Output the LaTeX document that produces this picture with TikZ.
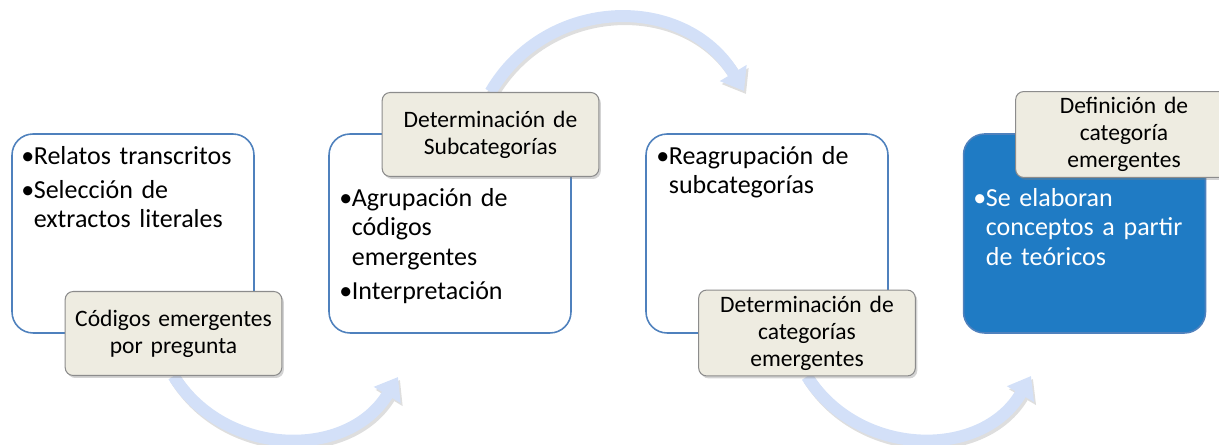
\documentclass[tikz,border=0pt]{standalone}
\usepackage{fontspec}
\setmainfont{Carlito}
\usetikzlibrary{arrows.meta,shadows,backgrounds}

\definecolor{borde}{HTML}{4F81BD}
\definecolor{etiqueta}{HTML}{EEECE1}
\definecolor{flecha}{HTML}{D3E0F8}
\definecolor{azul}{HTML}{1F7BC4}

\newcommand{\vineta}[1]{\hangindent=0.25cm\hangafter=1\noindent\makebox[0.25cm][l]{\textbullet}#1\par\vspace{0.09cm}}

\tikzset{
  caja/.style={draw=borde, line width=0.9pt, rounded corners=0.42cm, minimum width=4.84cm, minimum height=3.98cm},
  texto/.style={anchor=north west, inner sep=0pt, text width=4.5cm, align=left, font=\fontsize{14.8}{16.8}\selectfont},
  etiq/.style={draw=black!45, line width=0.6pt, fill=etiqueta, rounded corners=0.16cm, minimum width=4.28cm, minimum height=1.68cm, text width=4.1cm, align=center, font=\fontsize{13.4}{15.3}\selectfont, drop shadow={opacity=0.35, shadow xshift=0.04cm, shadow yshift=-0.05cm}},
  arco/.style={line width=0.24cm, draw=flecha, -{Triangle[length=0.42cm,width=0.6cm]}},
  sombra/.style={line width=0.24cm, draw=black!13, -{Triangle[length=0.42cm,width=0.6cm]}}
}

\begin{document}
\begin{tikzpicture}[x=0.02cm,y=-0.02cm]
\useasboundingbox (0,0) rectangle (1219,445);

\coordinate (c1) at (398,377);
\coordinate (c2) at (744,91);
\coordinate (c3) at (1031,376);

\node[caja, fill=white] (b1) at (133,233.5) {};
\node[caja, fill=white] (b2) at (450,233.5) {};
\node[caja, fill=white] (b3) at (767,233.5) {};
\node[caja, fill=azul] (b4) at (1084.5,233.5) {};

\node[etiq] (l1) at (173.5,333.5) {C\'odigos emergentes\\por pregunta};
\node[etiq] (l2) at (490.5,134.5) {Determinaci\'on de\\Subcategor\'ias};
\node[etiq] (l3) at (807,333) {Determinaci\'on de\\categor\'ias\\emergentes};
\node[etiq] (l4) at (1124,134.5) {Definici\'on de\\categor\'ia\\emergentes};

\node[texto] (t1) at (21,146) {\vineta{Relatos transcritos}\vineta{Selecci\'on de\break extractos literales}};
\node[texto] (t2) at (339,188) {\vineta{Agrupaci\'on de\break c\'odigos\break emergentes}\vineta{Interpretaci\'on}};
\node[texto] (t3) at (656,146) {\vineta{Reagrupaci\'on de\break subcategor\'ias}};
\node[texto, text=white] (t4) at (973,188) {\vineta{Se elaboran\break conceptos a partir\break de te\'oricos}};

% flechas curvas
\begin{scope}[on background layer]
\draw[sombra] ([shift={(2,3)}]l1.south) .. controls (227,461) and (350,463) .. ([shift={(2,3)}]c1);
\draw[arco] (l1.south) .. controls (225,458) and (348,460) .. (c1);
\draw[sombra] ([shift={(2,3)}]l2.north) .. controls (549,-2) and (687,-4) .. ([shift={(2,3)}]c2);
\draw[arco] (l2.north) .. controls (547,-5) and (685,-7) .. (c2);
\draw[sombra] ([shift={(2,3)}]l3.south) .. controls (861,461) and (984,463) .. ([shift={(2,3)}]c3);
\draw[arco] (l3.south) .. controls (859,458) and (982,460) .. (c3);
\end{scope}

\end{tikzpicture}
\end{document}
